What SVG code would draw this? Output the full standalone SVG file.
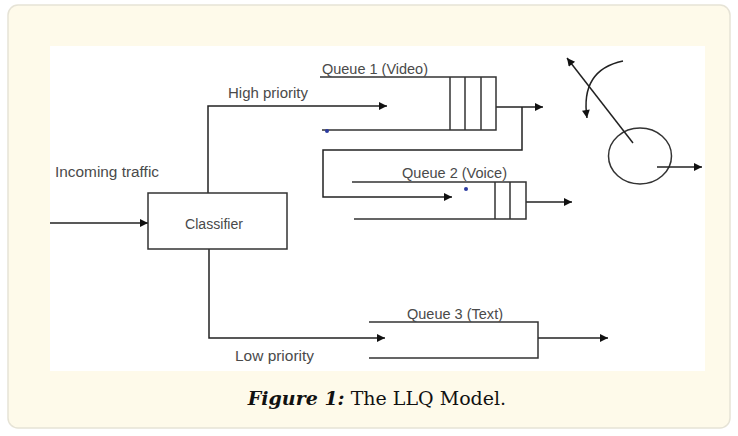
<svg xmlns="http://www.w3.org/2000/svg" width="738" height="436" viewBox="0 0 738 436">
<defs>
<marker id="ah" viewBox="0 0 10 10" refX="10" refY="5" markerWidth="10" markerHeight="8" markerUnits="userSpaceOnUse" orient="auto">
<path d="M0,0 L10,5 L0,10 z" fill="#111"/>
</marker>
<style>
.ln{stroke:#333;stroke-width:1.5;fill:none}
.ar{stroke:#222;stroke-width:1.5;fill:none;marker-end:url(#ah)}
.t{font-family:"Liberation Sans",Arial,sans-serif;font-size:14px;fill:#4a4a4a}
.cap{font-family:"DejaVu Serif","Liberation Serif",serif;font-size:19px;fill:#111}
</style>
</defs>
<rect x="8" y="5" width="722" height="423" rx="10" fill="#fefaea" stroke="#e6e3d6" stroke-width="1.5"/>
<rect x="50" y="46" width="655" height="325" fill="#ffffff"/>

<g id="connectors">
<line class="ar" x1="50" y1="223" x2="148" y2="223"/>
<polyline class="ar" points="208,193 208,106 387,106"/>
<polyline class="ar" points="209,249 209,338 385,338"/>
<line class="ar" x1="496" y1="107" x2="543" y2="107"/>
<polyline class="ar" points="522,107 522,150 323,150 323,197 452,197"/>
<line class="ar" x1="526" y1="202" x2="572" y2="202"/>
<line class="ar" x1="538" y1="338" x2="608" y2="338"/>
</g>

<g id="classifier">
<rect class="ln" x="148" y="193" width="139" height="56"/>
<text class="t" x="185" y="229" textLength="58" lengthAdjust="spacingAndGlyphs">Classifier</text>
</g>

<g id="queue1">
<polyline class="ln" points="320,77 496,77 496,130 322,130"/>
<line class="ln" x1="450" y1="77" x2="450" y2="130"/>
<line class="ln" x1="465" y1="77" x2="465" y2="130"/>
<line class="ln" x1="481" y1="77" x2="481" y2="130"/>
<circle cx="327" cy="131" r="2" fill="#2b3aa0"/>
<text class="t" x="322" y="74" textLength="106" lengthAdjust="spacingAndGlyphs">Queue 1 (Video)</text>
</g>

<g id="queue2">
<polyline class="ln" points="352,182 526,182 526,219 354,219"/>
<line class="ln" x1="495" y1="182" x2="495" y2="219"/>
<line class="ln" x1="510" y1="182" x2="510" y2="219"/>
<circle cx="466" cy="189" r="2" fill="#2b3aa0"/>
<text class="t" x="402" y="178" textLength="105" lengthAdjust="spacingAndGlyphs">Queue 2 (Voice)</text>
</g>

<g id="queue3">
<polyline class="ln" points="369,322 538,322 538,358 369,358"/>
<text class="t" x="407" y="319" textLength="96" lengthAdjust="spacingAndGlyphs">Queue 3 (Text)</text>
</g>

<g id="scheduler">
<ellipse class="ln" cx="640" cy="156" rx="31.5" ry="28"/>
<line class="ar" x1="633" y1="143" x2="567" y2="58"/>
<path class="ar" d="M623,61 Q580,70 587,118"/>
<line class="ar" x1="657" y1="167" x2="702" y2="167"/>
</g>

<g id="labels">
<text class="t" x="55" y="177" textLength="104" lengthAdjust="spacingAndGlyphs">Incoming traffic</text>
<text class="t" x="228" y="98" textLength="80" lengthAdjust="spacingAndGlyphs">High priority</text>
<text class="t" x="235" y="361" textLength="79" lengthAdjust="spacingAndGlyphs">Low priority</text>
</g>

<g id="caption">
<text class="cap" x="377" y="405" text-anchor="middle"><tspan font-weight="bold" font-style="italic">Figure 1:</tspan> The LLQ Model.</text>
</g>
</svg>
